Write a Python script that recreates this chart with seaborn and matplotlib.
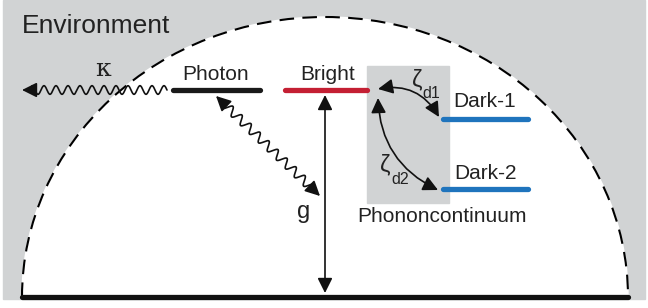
import numpy as np
import pandas as pd
import seaborn as sns
import matplotlib.pyplot as plt
from matplotlib.patches import Rectangle, Polygon, Arc, FancyArrowPatch

# energy levels (pixel frame of the sketch, y grows downwards)
level_names = ['Photon', 'Bright', 'Dark-1', 'Dark-2']
level_x0 = [173, 285, 443, 443]
level_x1 = [260, 367, 528, 528]
level_y = [90, 90, 119, 189]
level_colors = ['#1a1a1a', '#c41f33', '#1f74bd', '#1f74bd']
label_x = [216, 328, 485, 485]
label_y = [80, 80, 107, 179]

ground_y = 297
dome_center = 325
dome_rx = 303
dome_ry = 280

GRAY = '#d1d3d4'
INK = '#222222'

sns.set_theme(style='white')
plt.rcParams['font.family'] = ['Liberation Sans', 'DejaVu Sans']

fig = plt.figure(figsize=(6.48, 3.08), dpi=100)
ax = fig.add_axes([0, 0, 1, 1])

# environment background and white dome
ax.add_patch(Rectangle((3, 0), 642, ground_y + 2, color=GRAY, zorder=0))
t = np.linspace(0, np.pi, 300)
dome = np.column_stack([dome_center + dome_rx * np.cos(t), ground_y - dome_ry * np.sin(t)])
ax.add_patch(Polygon(dome, closed=True, color='white', zorder=1))
ax.add_patch(Arc((dome_center, ground_y), 2 * dome_rx, 2 * dome_ry, theta1=180, theta2=360,
                 color='black', lw=1.5, linestyle=(0, (7, 4)), zorder=2))
ax.plot([dome_center - dome_rx, dome_center + dome_rx], [ground_y, ground_y], color='#111111', lw=3.8, zorder=3)

# phonon continuum box
ax.add_patch(Rectangle((367, 66), 82, 137, color=GRAY, zorder=2))

# levels via seaborn
rows = []
for n, a, b, y in zip(level_names, level_x0, level_x1, level_y):
    rows.append({'level': n, 'x': a, 'y': y})
    rows.append({'level': n, 'x': b, 'y': y})
df = pd.DataFrame(rows)
sns.lineplot(data=df, x='x', y='y', hue='level', units='level', estimator=None, sort=False,
             palette=dict(zip(level_names, level_colors)), linewidth=3.8, legend=False, ax=ax, zorder=4)
ax.set_xlim(0, 648)
ax.set_ylim(308, 0)
ax.axis('off')

for n, x, y in zip(level_names, label_x, label_y):
    ax.text(x, y, n, ha='center', va='baseline', fontsize=15, color=INK, zorder=5)

ax.text(22, 33, 'Environment', ha='left', va='baseline', fontsize=19, color=INK)
ax.text(442, 222, 'Phononcontinuum', ha='center', va='baseline', fontsize=15, color=INK, zorder=5)
ax.text(103, 69, 'κ', ha='center', va='center', fontsize=18, color=INK, family='DejaVu Serif')
ax.text(304, 212, 'g', ha='center', va='center', fontsize=17, color=INK)
ax.text(417, 80, 'ζ', ha='center', va='center', fontsize=17, color=INK)
ax.text(431, 94, 'd1', ha='center', va='center', fontsize=11.5, color=INK)
ax.text(385, 165, 'ζ', ha='center', va='center', fontsize=17, color=INK)
ax.text(400, 180, 'd2', ha='center', va='center', fontsize=11.5, color=INK)

head = dict(arrowstyle='-|>,head_length=0.9,head_width=0.45', mutation_scale=10,
            color='#111111', lw=1.2, shrinkA=0, shrinkB=0)


def wavy(p0, p1, amp=4.0, period=12.0, head0=False, head1=True):
    p0 = np.array(p0, float)
    p1 = np.array(p1, float)
    d = p1 - p0
    L = np.hypot(*d)
    u = d / L
    nrm = np.array([-u[1], u[0]])
    s0 = 10 if head0 else 0
    s1 = L - 10 if head1 else L
    s = np.linspace(s0, s1, 400)
    w = amp * np.sin(2 * np.pi * (s - s0) / period)
    pts = p0 + np.outer(s, u) + np.outer(w, nrm)
    ax.plot(pts[:, 0], pts[:, 1], color='#111111', lw=1.2, zorder=5)
    if head1:
        ax.add_patch(FancyArrowPatch(tuple(p0 + u * (L - 12)), tuple(p1), zorder=6, **head))
    if head0:
        ax.add_patch(FancyArrowPatch(tuple(p0 + u * 12), tuple(p0), zorder=6, **head))


wavy((167, 90), (22, 90), amp=4.3, period=12)
wavy((216, 96), (320, 196), amp=4.3, period=12.5, head0=True, head1=True)

both = dict(arrowstyle='<|-|>,head_length=0.9,head_width=0.45', mutation_scale=10,
            color='#111111', lw=1.2, shrinkA=0, shrinkB=0, zorder=6)
ax.add_patch(FancyArrowPatch((325, 95), (325, 293), **both))
ax.add_patch(FancyArrowPatch((378, 89), (439, 117), connectionstyle='arc3,rad=-0.35', **both))
ax.add_patch(FancyArrowPatch((378, 98), (438, 190), connectionstyle='arc3,rad=0.3', **both))

fig.savefig('out.png', dpi=100)
